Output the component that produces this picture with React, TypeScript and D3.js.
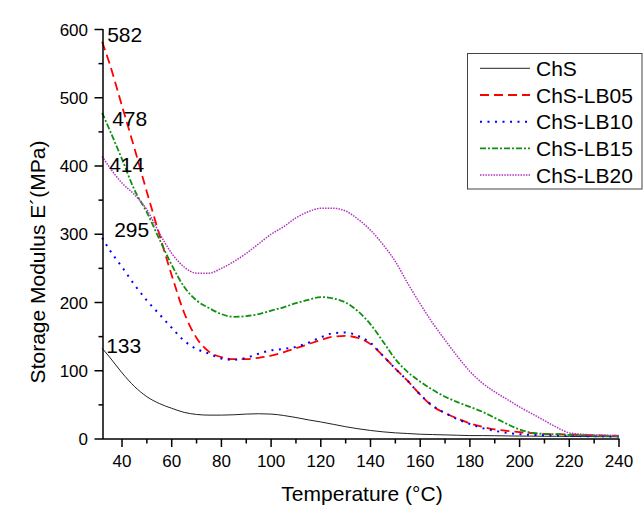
import React from "react";
import * as d3 from "d3";

const temps = [32, 35, 40, 45, 50, 55, 60, 65, 70, 75, 80, 85, 90, 95, 100, 105, 110, 115, 120, 125, 130, 135, 140, 145, 150, 155, 160, 165, 170, 175, 180, 185, 190, 195, 200, 205, 210, 215, 220, 225, 230, 235, 240];

const chs = [133, 120, 97, 77, 62, 52, 45, 39, 36, 35, 35, 35.5, 36.5, 37, 36.5, 34.5, 31.5, 28, 25, 21.5, 18, 15, 12.5, 10.5, 9, 8, 7, 6.5, 6, 5.5, 5, 5, 4.8, 4.5, 4.3, 4.2, 4, 4, 3.8, 3.6, 3.5, 3.4, 3.3];
const lb05 = [582, 550, 488, 426, 362, 300, 240, 185, 148, 128, 120, 117, 117, 119, 122, 127, 133, 139, 145, 150, 151, 148, 139, 122, 103, 85, 65, 48, 38, 30, 23, 18, 14, 12, 10, 8.5, 7.5, 7, 6.5, 6, 5.5, 5, 4.5];
const lb10 = [295, 277, 252, 226, 203, 183, 163, 144, 132, 125, 118, 116, 119, 125, 130, 132, 135, 141, 149, 155, 156, 151, 141, 122, 103, 85, 65, 49, 38, 29, 22, 16, 12, 9, 7, 6, 5.5, 5, 4.5, 4.2, 4, 3.8, 3.5];
const lb15 = [478, 453, 410, 365, 332, 293, 255, 223, 203, 192, 183, 179, 180, 183, 188, 193, 199, 204, 208, 206, 200, 187, 168, 143, 117, 98, 84, 72, 62, 54, 47, 40, 31, 22, 14, 9, 7.5, 7, 6, 5.5, 5, 4.5, 4];
const lb20 = [414, 398, 375, 358, 336, 302, 272, 252, 243, 243, 250, 260, 272, 286, 300, 311, 324, 333, 338, 338, 334, 322, 306, 285, 260, 228, 198, 170, 145, 121, 99, 82, 69, 58, 47, 37, 27, 17, 9, 7, 6, 5.5, 5];

const seriesNames = ["ChS", "ChS-LB05", "ChS-LB10", "ChS-LB15", "ChS-LB20"];
const seriesValues = [chs, lb05, lb10, lb15, lb20];
const seriesColors = ["#222222", "#ff0000", "#0000ff", "#109010", "#b030c0"];
const seriesDash = ["none", "9,5", "2,5.5", "6,2,2,2", "1.5,1.2"];
const seriesWidth = [1, 1.8, 2, 1.8, 1.5];

const xTicks = [40, 60, 80, 100, 120, 140, 160, 180, 200, 220, 240];
const yTicks = [0, 100, 200, 300, 400, 500, 600];
const annotations = [
  { label: "582", t: 32, v: 582 },
  { label: "478", t: 32, v: 478 },
  { label: "414", t: 32, v: 414 },
  { label: "295", t: 32, v: 295 },
  { label: "133", t: 32, v: 133 },
];
const annOffsets = [[5, 0], [10, 13], [7, 15.5], [12, -1], [4, 4.5]];

export default function App() {
  const W = 643, H = 507;
  const x = d3.scaleLinear().domain([32.35, 240]).range([103, 619]);
  const y = d3.scaleLinear().domain([0, 600]).range([439, 29.5]);
  const line = d3.line<number>()
    .x((_, i) => x(temps[i]))
    .y((d) => y(d))
    .curve(d3.curveMonotoneX);
  const font = "Arial, 'Liberation Sans', sans-serif";
  const xMinor = d3.range(50, 240, 20);
  const yMinor = d3.range(50, 600, 100);
  const legendRows = seriesNames.map((n, i) => ({ n, i, yy: 68.3 + i * 26.7 }));
  return (
    <svg width={W} height={H} style={{ position: "absolute", left: 0, top: 0, background: "#fff" }} fontFamily={font}>
      <rect x={0} y={0} width={W} height={H} fill="#ffffff" />
      {seriesValues.map((vals, i) => (
        <path key={i} d={line(vals) || ""} fill="none" stroke={seriesColors[i]} strokeWidth={seriesWidth[i]} strokeDasharray={seriesDash[i]} />
      ))}
      <line x1={103} x2={103} y1={439} y2={29} stroke="#000" strokeWidth={1.5} />
      <line x1={103} x2={619.5} y1={439} y2={439} stroke="#000" strokeWidth={1.5} />
      {xTicks.map((t) => (
        <g key={"xt" + t}>
          <line x1={x(t)} x2={x(t)} y1={439} y2={447} stroke="#000" strokeWidth={1.5} />
          <text x={x(t)} y={467} textAnchor="middle" fontSize={17}>{t}</text>
        </g>
      ))}
      {xMinor.map((t) => (
        <line key={"xm" + t} x1={x(t)} x2={x(t)} y1={439} y2={443.5} stroke="#000" strokeWidth={1.5} />
      ))}
      {yTicks.map((t) => (
        <g key={"yt" + t}>
          <line x1={94.5} x2={103} y1={y(t)} y2={y(t)} stroke="#000" strokeWidth={1.5} />
          <text x={88} y={y(t) + 6} textAnchor="end" fontSize={17}>{t}</text>
        </g>
      ))}
      {yMinor.map((t) => (
        <line key={"ym" + t} x1={98.5} x2={103} y1={y(t)} y2={y(t)} stroke="#000" strokeWidth={1.5} />
      ))}
      <text x={362} y={501} textAnchor="middle" fontSize={21}>Temperature (°C)</text>
      <text transform="translate(45,262) rotate(-90)" textAnchor="middle" fontSize={21}>Storage Modulus E´(MPa)</text>
      {annotations.map((a, i) => (
        <text key={a.label} x={x(a.t) + annOffsets[i][0]} y={y(a.v) + annOffsets[i][1]} fontSize={21}>{a.label}</text>
      ))}
      <rect x={467.5} y={53.5} width={174.5} height={135.5} fill="#fff" stroke="#444" strokeWidth={1} />
      {legendRows.map((r) => (
        <g key={r.n}>
          <line x1={480} x2={530} y1={r.yy} y2={r.yy} stroke={seriesColors[r.i]} strokeWidth={seriesWidth[r.i]} strokeDasharray={seriesDash[r.i]} />
          <text x={536} y={r.yy + 7.5} fontSize={21}>{r.n}</text>
        </g>
      ))}
    </svg>
  );
}
